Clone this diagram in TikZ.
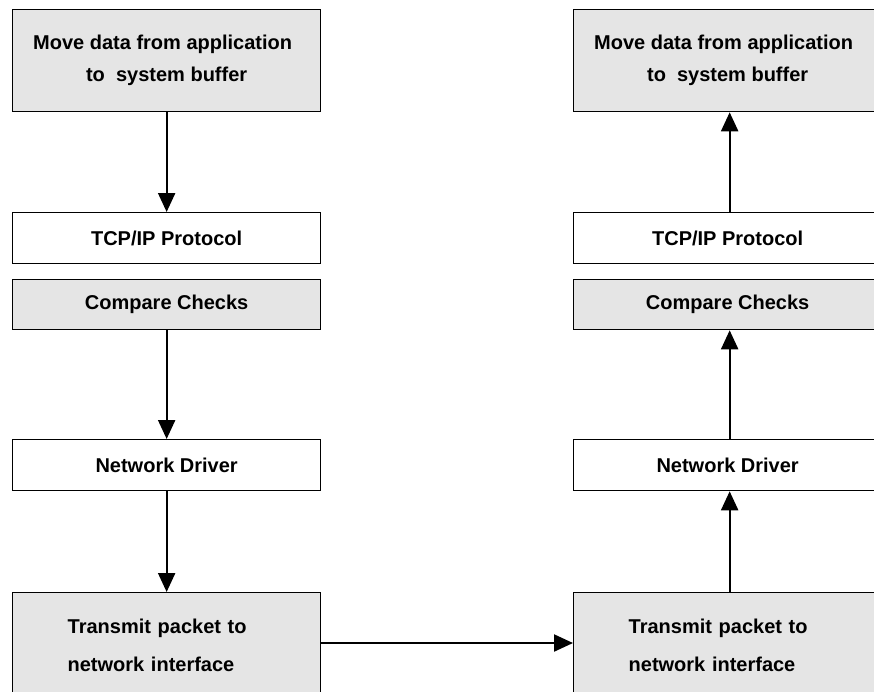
\documentclass[tikz,border=0pt]{standalone}
\usepackage{fontspec}
\setmainfont{Liberation Sans}
\usetikzlibrary{arrows.meta}
\begin{document}
\begin{tikzpicture}[x=1pt,y=-1pt,
  box/.style={draw=black, line width=1.3pt, minimum width=308pt, anchor=north west,
    inner sep=0pt, font=\fontsize{20}{32}\selectfont\bfseries, align=center},
  gbox/.style={box, fill=gray!20},
  wbox/.style={box, fill=white},
  arr/.style={line width=2.2pt, -{Triangle[length=19pt,width=17pt]}}]
\useasboundingbox (0,0) rectangle (874,691);
\clip (0,0) rectangle (874,691);
% left column
\node[gbox, minimum height=102pt] (l1) at (12,9) {\hspace*{-8pt}Move data from application\\ to\ \ system buffer};
\node[wbox, minimum height=51pt] (l2) at (12,212) {TCP/IP Protocol};
\node[gbox, minimum height=50pt] (l3) at (12,279) {Compare Checks};
\node[wbox, minimum height=51pt] (l4) at (12,439) {Network Driver};
\node[gbox, minimum height=105pt, text width=250pt, align=left,
  font=\fontsize{20}{38}\selectfont\bfseries] (l5) at (12,592)
  {\hspace*{26pt}Transmit packet to\\ \hspace*{26pt}network interface\\[6pt]};
% right column
\node[gbox, minimum height=102pt] (r1) at (573,9) {\hspace*{-8pt}Move data from application\\ to\ \ system buffer};
\node[wbox, minimum height=51pt] (r2) at (573,212) {TCP/IP Protocol};
\node[gbox, minimum height=50pt] (r3) at (573,279) {Compare Checks};
\node[wbox, minimum height=51pt] (r4) at (573,439) {Network Driver};
\node[gbox, minimum height=105pt, text width=250pt, align=left,
  font=\fontsize{20}{38}\selectfont\bfseries] (r5) at (573,592)
  {\hspace*{26pt}Transmit packet to\\ \hspace*{26pt}network interface\\[6pt]};
% arrows left (down)
\draw[arr] (l1.south) -- (l2.north);
\draw[arr] (l3.south) -- (l4.north);
\draw[arr] (l4.south) -- (l5.north);
% arrows right (up)
\draw[arr] ([xshift=2pt]r2.north) -- ([xshift=2pt]r1.south);
\draw[arr] ([xshift=2pt]r4.north) -- ([xshift=2pt]r3.south);
\draw[arr] ([xshift=2pt]r5.north) -- ([xshift=2pt]r4.south);
% horizontal
\draw[arr] (l5.east |- 0,643) -- (r5.west |- 0,643);
\end{tikzpicture}
\end{document}
